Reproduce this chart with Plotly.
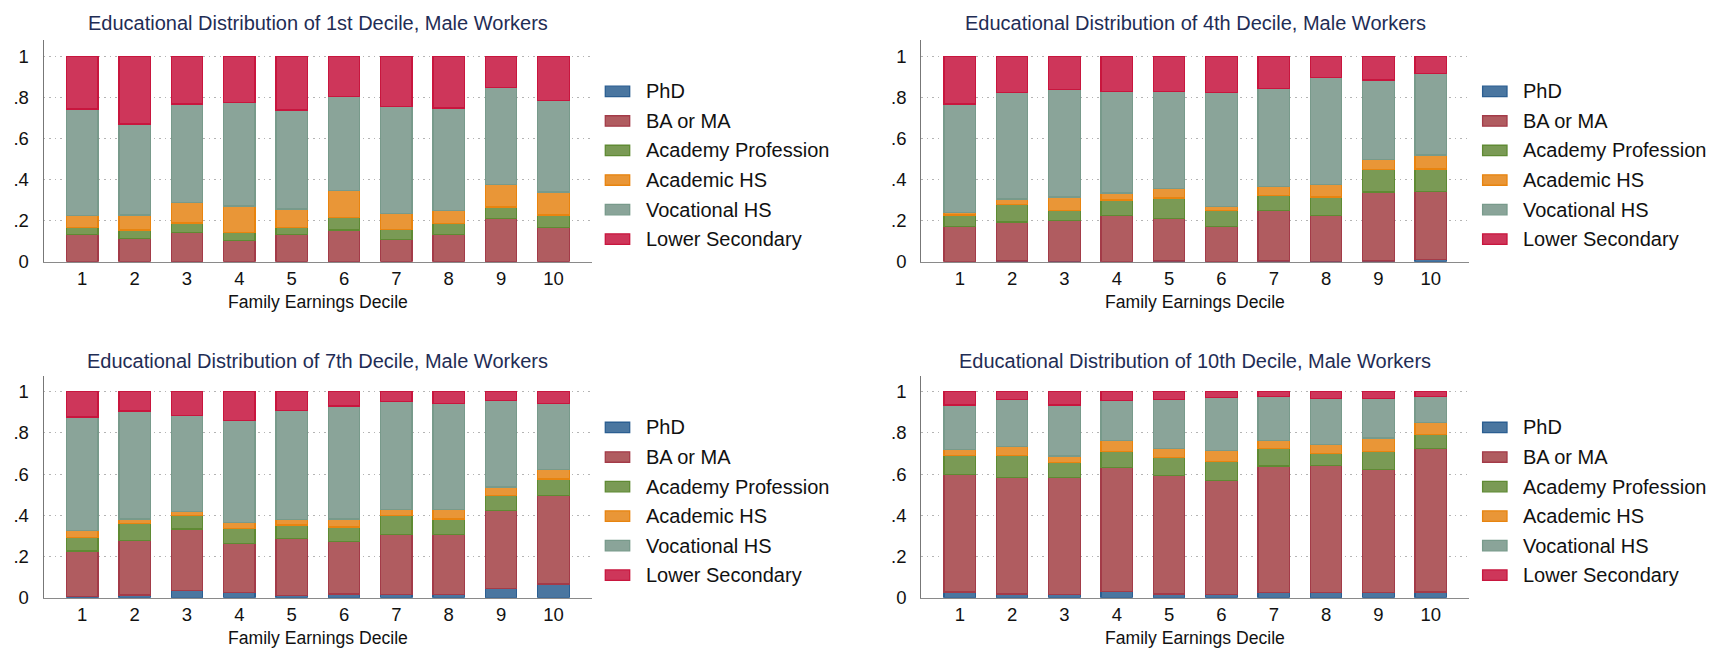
import plotly.graph_objects as go

W, H = 1717, 654

deciles = [1, 2, 3, 4, 5, 6, 7, 8, 9, 10]
x_tick_labels = ["1", "2", "3", "4", "5", "6", "7", "8", "9", "10"]
y_tick_vals = [0, 0.2, 0.4, 0.6, 0.8, 1.0]
y_tick_labels = ["0", ".2", ".4", ".6", ".8", "1"]
series_names = ["PhD", "BA or MA", "Academy Profession", "Academic HS", "Vocational HS", "Lower Secondary"]
panel_titles = [
    "Educational Distribution of 1st Decile, Male Workers",
    "Educational Distribution of 4th Decile, Male Workers",
    "Educational Distribution of 7th Decile, Male Workers",
    "Educational Distribution of 10th Decile, Male Workers",
]
x_title = "Family Earnings Decile"

# Shares by family earnings decile (each bar sums to 1)
d1_phd = [0, 0, 0, 0, 0, 0, 0, 0, 0, 0]
d1_ba = [.133, .113, .141, .104, .133, .155, .107, .131, .209, .166]
d1_acad_prof = [.032, .042, .048, .040, .032, .062, .050, .054, .058, .062]
d1_acad_hs = [.059, .073, .100, .128, .092, .130, .079, .064, .108, .111]
d1_voc_hs = [.519, .443, .478, .503, .481, .458, .518, .499, .472, .447]
d1_lower_sec = [.257, .329, .233, .225, .262, .195, .246, .252, .153, .214]

d4_phd = [0, .003, .002, .001, .003, .001, .003, .002, .004, .012]
d4_ba = [.172, .190, .198, .223, .206, .170, .245, .223, .336, .331]
d4_acad_prof = [.056, .087, .051, .076, .101, .077, .073, .090, .109, .109]
d4_acad_hs = [.012, .025, .064, .035, .046, .022, .046, .060, .048, .068]
d4_voc_hs = [.527, .518, .522, .494, .473, .553, .476, .523, .388, .396]
d4_lower_sec = [.233, .177, .163, .171, .171, .177, .157, .102, .115, .084]

d7_phd = [.007, .014, .034, .026, .011, .018, .016, .016, .045, .067]
d7_ba = [.220, .264, .300, .239, .277, .255, .291, .291, .377, .428]
d7_acad_prof = [.064, .083, .067, .070, .065, .070, .092, .076, .073, .082]
d7_acad_hs = [.035, .021, .018, .032, .027, .039, .028, .047, .043, .044]
d7_voc_hs = [.551, .524, .466, .492, .529, .548, .524, .513, .420, .322]
d7_lower_sec = [.123, .094, .115, .141, .091, .070, .049, .057, .042, .057]

d10_phd = [.028, .018, .016, .032, .019, .016, .026, .026, .026, .029]
d10_ba = [.571, .565, .569, .601, .575, .554, .613, .616, .595, .695]
d10_acad_prof = [.090, .107, .070, .076, .087, .091, .086, .058, .088, .067]
d10_acad_hs = [.029, .043, .033, .055, .044, .055, .039, .044, .067, .059]
d10_voc_hs = [.218, .230, .248, .194, .238, .255, .214, .224, .192, .128]
d10_lower_sec = [.064, .037, .064, .042, .037, .029, .022, .032, .032, .022]

panels = [
    [d1_phd, d1_ba, d1_acad_prof, d1_acad_hs, d1_voc_hs, d1_lower_sec],
    [d4_phd, d4_ba, d4_acad_prof, d4_acad_hs, d4_voc_hs, d4_lower_sec],
    [d7_phd, d7_ba, d7_acad_prof, d7_acad_hs, d7_voc_hs, d7_lower_sec],
    [d10_phd, d10_ba, d10_acad_prof, d10_acad_hs, d10_voc_hs, d10_lower_sec],
]

fills = ["#4A76A0", "#B05C60", "#7A9A55", "#E99637", "#8AA499", "#CE365A"]
borders = ["#2B5E91", "#A33B48", "#5F8A33", "#E8840F", "#789A8B", "#C8163E"]

FONT = "Arial, Liberation Sans, sans-serif"

# pixel geometry
x_left = [35.7, 913.3, 35.7, 913.3]
x_right = [584.0, 1461.3, 584.0, 1461.3]
y_top_px = [32.7, 32.7, 373.3, 373.3]
y_zero_px = [257.7, 257.7, 599.0, 599.0]
y_one_px = [49.0, 49.0, 390.3, 390.3]


def fx(p):
    return p / W


def fy(p):
    return 1 - p / H


fig = go.Figure()
layout = dict(
    width=W, height=H, paper_bgcolor="white", plot_bgcolor="white",
    margin=dict(l=0, r=0, t=0, b=0), barmode="stack", showlegend=False,
    font=dict(family=FONT, color="#111111"),
)

annotations = []
shapes = []
for i in range(4):
    ax = "" if i == 0 else str(i + 1)
    for s, vals in enumerate(panels[i]):
        fig.add_trace(go.Bar(
            x=deciles, y=vals, name=series_names[s], width=0.6,
            marker=dict(color=fills[s], line=dict(color=borders[s], width=1.3)),
            xaxis="x" + ax, yaxis="y" + ax, showlegend=False,
            hovertemplate=series_names[s] + ": %{y:.3f}<extra></extra>",
        ))
    layout["xaxis" + ax] = dict(
        domain=[fx(x_left[i]), fx(x_right[i])], anchor="y" + ax,
        range=[0.264, 10.736], tickvals=deciles, ticktext=x_tick_labels,
        showline=True, linecolor="#8a8a8a", linewidth=1.3, showgrid=False,
        zeroline=False, ticks="", tickfont=dict(size=18.5, color="#111111"),
        fixedrange=True,
    )
    layout["yaxis" + ax] = dict(
        domain=[fy(y_zero_px[i]), fy(y_top_px[i])], anchor="x" + ax,
        range=[0, 1.078], tickvals=y_tick_vals, ticktext=y_tick_labels,
        showline=True, linecolor="#777777", linewidth=1.3,
        showgrid=True, gridcolor="#b4b4b4", griddash="1.5px,4px", gridwidth=1,
        zeroline=False, ticks="", ticklabelstandoff=10,
        tickfont=dict(size=18.5, color="#111111"), fixedrange=True,
    )
    cx = (x_left[i] + x_right[i]) / 2
    ty = 15.7 if i < 2 else 358.3
    annotations.append(dict(
        text=panel_titles[i], x=fx(cx), y=fy(ty), xref="paper", yref="paper",
        xanchor="center", yanchor="middle", showarrow=False,
        font=dict(size=20, color="#1F2D55", family=FONT),
    ))
    annotations.append(dict(
        text=x_title, x=fx(cx), y=fy(y_zero_px[i] + 40.6), xref="paper", yref="paper",
        xanchor="center", yanchor="middle", showarrow=False,
        font=dict(size=17.6, color="#111111", family=FONT),
    ))
    # legend
    for s, name in enumerate(series_names):
        yc = y_one_px[i] + 35.7 + 30 * s
        shapes.append(dict(
            type="rect", xref="paper", yref="paper",
            x0=fx(x_right[i] + 13.3), x1=fx(x_right[i] + 37.7),
            y0=fy(yc + 5.3), y1=fy(yc - 5.3),
            fillcolor=fills[s], line=dict(color=borders[s], width=1.3),
        ))
        annotations.append(dict(
            text=name, x=fx(x_right[i] + 52), y=fy(yc), xref="paper", yref="paper",
            xanchor="left", yanchor="middle", showarrow=False,
            font=dict(size=20, color="#111111", family=FONT),
        ))

layout["annotations"] = annotations
layout["shapes"] = shapes
fig.update_layout(**layout)
fig.write_html("out.html")
